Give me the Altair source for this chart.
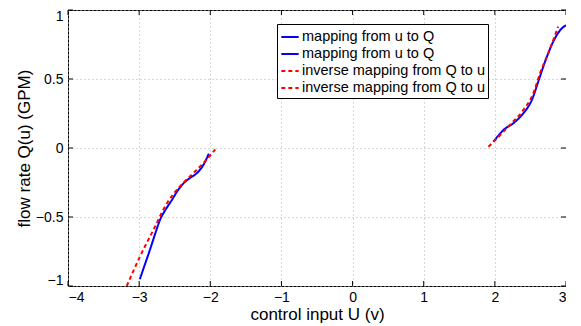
import altair as alt
import pandas as pd

# ---- data ----
series_ids = ["s1", "s2", "s3", "s4"]
series_labels = [
    "mapping from u to Q",
    "mapping from u to Q",
    "inverse mapping from Q to u",
    "inverse mapping from Q to u",
]
series_colors = ["#0000ff", "#0000ff", "#ff0000", "#ff0000"]
series_dashes = [[1, 0], [1, 0], [4, 3], [4, 3]]

# blue, left branch
u_s1 = [-2.99, -2.92, -2.85, -2.78, -2.71, -2.62, -2.54, -2.46, -2.38, -2.28, -2.19, -2.10, -2.02]
q_s1 = [-0.95, -0.845, -0.74, -0.63, -0.525, -0.44, -0.377, -0.31, -0.258, -0.215, -0.183, -0.125, -0.04]
# blue, right branch
u_s2 = [1.98, 2.05, 2.12, 2.26, 2.40, 2.47, 2.52, 2.61, 2.705, 2.82, 2.92, 3.0]
q_s2 = [0.046, 0.09, 0.13, 0.179, 0.251, 0.30, 0.348, 0.481, 0.625, 0.77, 0.855, 0.89]
# red, left branch
u_s3 = [-3.175, -3.08, -2.99, -2.80, -2.61, -2.43, -2.24, -2.10, -1.93]
q_s3 = [-1.0, -0.89, -0.788, -0.594, -0.401, -0.28, -0.183, -0.111, -0.01]
# red, right branch
u_s4 = [1.91, 2.03, 2.21, 2.40, 2.54, 2.635, 2.75, 2.89]
q_s4 = [0.009, 0.07, 0.167, 0.275, 0.396, 0.541, 0.686, 0.879]

x_ticks = [-4, -3, -2, -1, 0, 1, 2, 3]
y_ticks = [-1, -0.5, 0, 0.5, 1]

# ---- tables ----
rows = []
for sid, us, qs in zip(series_ids, [u_s1, u_s2, u_s3, u_s4], [q_s1, q_s2, q_s3, q_s4]):
    for i, (u, q) in enumerate(zip(us, qs)):
        rows.append({"u": u, "Q": q, "series": sid, "idx": i})
df = pd.DataFrame(rows)
xt = pd.DataFrame({"u": x_ticks})
yt = pd.DataFrame({"Q": y_ticks})

W, H = 498, 276
FONT = "Liberation Sans"

label_expr = " : ".join(
    f"datum.value == '{sid}' ? '{lab}'" for sid, lab in zip(series_ids, series_labels)
) + " : ''"

legend = alt.Legend(
    title=None,
    orient="none",
    legendX=209,
    legendY=14,
    symbolType="stroke",
    symbolStrokeWidth=2,
    symbolSize=300,
    labelFont=FONT,
    labelFontSize=14.5,
    labelColor="black",
    labelOffset=2,
    labelLimit=400,
    labelExpr=label_expr,
    padding=3,
    rowPadding=0,
    strokeColor="black",
    fillColor="white",
)

xscale = alt.Scale(domain=[-4, 3], nice=False, zero=False)
yscale = alt.Scale(domain=[-1, 1], nice=False, zero=False)

x_axis = alt.Axis(
    values=x_ticks,
    format="~g",
    title="control input U (v)",
    titleX=W / 2,
    titleY=28,
    titleBaseline="middle",
    labelPadding=4,
)
y_axis = alt.Axis(
    values=y_ticks,
    format="~g",
    title="flow rate Q(u) (GPM)",
    titleX=-44,
    titleY=H / 2,
    titleBaseline="middle",
    labelPadding=5,
    labelFlush=True,
    labelFlushOffset=1,
)

lines = alt.Chart(df).mark_line(strokeWidth=2, clip=True, interpolate="monotone").encode(
    x=alt.X("u:Q", scale=xscale, axis=x_axis),
    y=alt.Y("Q:Q", scale=yscale, axis=y_axis),
    color=alt.Color("series:N", scale=alt.Scale(domain=series_ids, range=series_colors), legend=legend),
    strokeDash=alt.StrokeDash("series:N", scale=alt.Scale(domain=series_ids, range=series_dashes), legend=legend),
    order="idx:Q",
)

tick_len = 5
bottom_ticks = alt.Chart(xt).mark_rule(color="black", strokeWidth=1).encode(
    x=alt.X("u:Q", scale=xscale, axis=x_axis), y=alt.value(H), y2=alt.value(H - tick_len)
)
top_ticks = alt.Chart(xt).mark_rule(color="black", strokeWidth=1).encode(
    x=alt.X("u:Q", scale=xscale, axis=x_axis), y=alt.value(0), y2=alt.value(tick_len)
)
left_ticks = alt.Chart(yt).mark_rule(color="black", strokeWidth=1).encode(
    y=alt.Y("Q:Q", scale=yscale, axis=y_axis), x=alt.value(0), x2=alt.value(tick_len)
)
right_ticks = alt.Chart(yt).mark_rule(color="black", strokeWidth=1).encode(
    y=alt.Y("Q:Q", scale=yscale, axis=y_axis), x=alt.value(W), x2=alt.value(W - tick_len)
)

chart = (
    alt.layer(lines, bottom_ticks, top_ticks, left_ticks, right_ticks)
    .properties(
        width=W,
        height=H,
        autosize=alt.AutoSizeParams(type="none"),
        padding={"left": 60, "top": 2, "right": 0, "bottom": 40},
        background="white",
    )
    .configure_view(stroke="black", strokeWidth=1)
    .configure_axis(
        domain=False,
        ticks=False,
        grid=True,
        gridColor="#b0b0b0",
        gridDash=[1, 3],
        gridWidth=1,
        labelFont=FONT,
        labelFontSize=14,
        labelColor="black",
        titleFont=FONT,
        titleFontSize=17,
        titleFontWeight="normal",
        titleColor="black",
    )
)

chart.save("out.html", embed_options={"renderer": "svg", "actions": False})
